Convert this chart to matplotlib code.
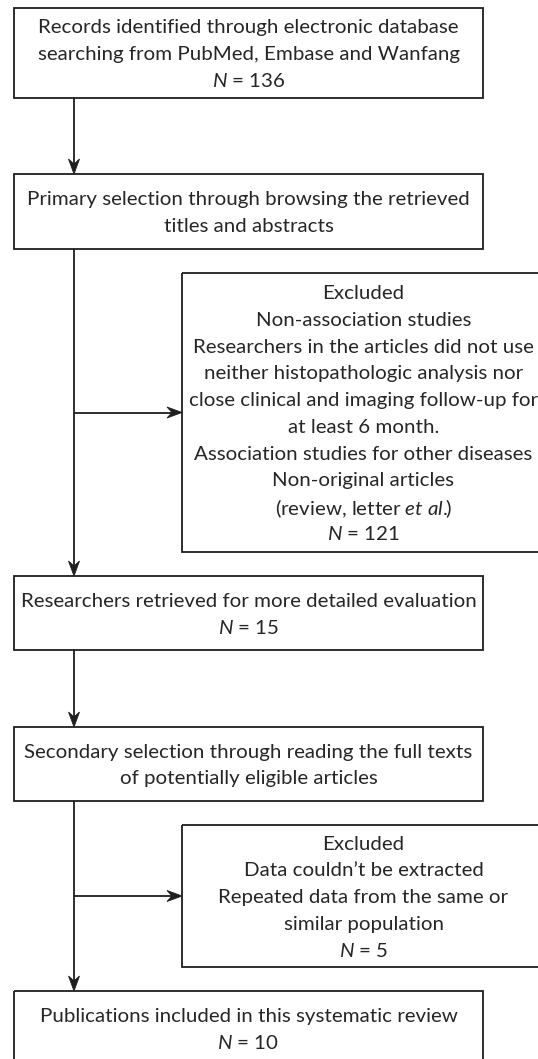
import matplotlib.pyplot as plt
from matplotlib.patches import Rectangle, Polygon

plt.rcParams["font.family"] = ["Lato", "DejaVu Sans"]
plt.rcParams["mathtext.fontset"] = "custom"
plt.rcParams["mathtext.rm"] = "Lato"
plt.rcParams["mathtext.it"] = "Lato:italic"

# Box texts (one entry per line)
main_texts = [
    ["Records identified through electronic database",
     "searching from PubMed, Embase and Wanfang",
     "$N$ = 136"],
    ["Primary selection through browsing the retrieved",
     "titles and abstracts"],
    ["Researchers retrieved for more detailed evaluation",
     "$N$ = 15"],
    ["Secondary selection through reading the full texts",
     "of potentially eligible articles"],
    ["Publications included in this systematic review",
     "$N$ = 10"],
]
excluded_texts = [
    ["Excluded",
     "Non-association studies",
     "Researchers in the articles did not use",
     "neither histopathologic analysis nor",
     "close clinical and imaging follow-up for",
     "at least 6 month.",
     "Association studies for other diseases",
     "Non-original articles",
     "(review, letter $et\\ al.\\!\\!$)",
     "$N$ = 121"],
    ["Excluded",
     "Data couldn\u2019t be extracted",
     "Repeated data from the same or",
     "similar population",
     "$N$ = 5"],
]

# layout in pixels (y downwards)
W, H = 538, 1059
main_x = (14, 483)
main_y = [(8, 98), (174, 249), (576, 650), (727, 801), (991, 1066)]
excl_x = (182, 545)
excl_y = [(273, 552), (825, 967)]
trunk_x = 74
line_gap = 26.7
ink = "#1e1e1e"
text_ink = "#262626"

fig = plt.figure(figsize=(W / 100, H / 100), dpi=100)
ax = fig.add_axes([0, 0, 1, 1])
ax.set_xlim(0, W)
ax.set_ylim(H, 0)
ax.axis("off")

# pick font size so the first line is as wide as in the original (~419 px)
renderer = fig.canvas.get_renderer()
probe = ax.text(0, 0, main_texts[0][0], fontsize=12)
w12 = probe.get_window_extent(renderer).width
probe.remove()
fs = 12 * 419 / w12


def draw_box(x0, x1, y0, y1, lines):
    ax.add_patch(Rectangle((x0, y0), x1 - x0, y1 - y0, fill=False,
                           edgecolor=ink, lw=1.3))
    cx = (x0 + x1) / 2
    cy = (y0 + y1) / 2
    n = len(lines)
    for i, t in enumerate(lines):
        y = cy + (i - (n - 1) / 2) * line_gap
        ax.text(cx, y, t, ha="center", va="center_baseline", fontsize=fs,
                color=text_ink)


def arrow(p0, p1):
    # straight line plus a concave (stealth) head ending at p1
    (xa, ya), (xb, yb) = p0, p1
    L, hw, notch = 15, 5.5, 5
    dx, dy = xb - xa, yb - ya
    d = (dx ** 2 + dy ** 2) ** 0.5
    ux, uy = dx / d, dy / d
    px, py = -uy, ux
    bx, by = xb - ux * L, yb - uy * L
    head = [(xb, yb), (bx + px * hw, by + py * hw),
            (xb - ux * (L - notch), yb - uy * (L - notch)),
            (bx - px * hw, by - py * hw)]
    ax.plot([xa, xb - ux * (L - notch)], [ya, yb - uy * (L - notch)],
            color=ink, lw=1.3, solid_capstyle="butt")
    ax.add_patch(Polygon(head, closed=True, facecolor=ink, edgecolor=ink,
                         lw=0.6))


for (y0, y1), lines in zip(main_y, main_texts):
    draw_box(main_x[0], main_x[1], y0, y1, lines)
for (y0, y1), lines in zip(excl_y, excluded_texts):
    draw_box(excl_x[0], excl_x[1], y0, y1, lines)

# vertical connectors between main boxes
for k in range(len(main_y) - 1):
    arrow((trunk_x, main_y[k][1]), (trunk_x, main_y[k + 1][0]))

# side branches to the excluded boxes
for (y0, y1) in excl_y:
    ym = (y0 + y1) / 2
    arrow((trunk_x, ym), (excl_x[0], ym))

fig.savefig("out.png", dpi=100)
